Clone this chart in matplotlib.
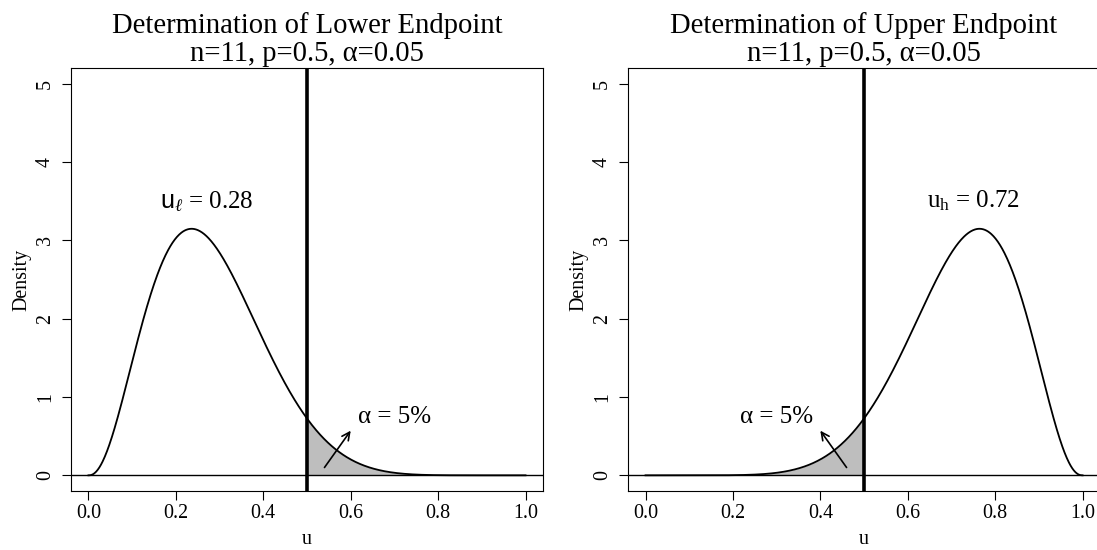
import math

import numpy as np
import matplotlib
matplotlib.use("Agg")
import matplotlib.pyplot as plt

plt.rcParams["font.family"] = ["Liberation Serif", "DejaVu Serif"]
plt.rcParams["mathtext.fontset"] = "custom"
plt.rcParams["mathtext.rm"] = "Liberation Serif"
plt.rcParams["mathtext.it"] = "Liberation Serif:italic"
plt.rcParams["mathtext.sf"] = "Liberation Sans"

# settings shown in the titles
n = 11
p = 0.5
alpha = 0.05

# endpoints (means of the two beta densities)
u_low = 0.28
u_high = 0.72

x_ticks = [0.0, 0.2, 0.4, 0.6, 0.8, 1.0]
y_ticks = [0, 1, 2, 3, 4, 5]

titles = ["Determination of Lower Endpoint", "Determination of Upper Endpoint"]
end_labels = [r"$\mathsf{u}_{\ell}$ = 0.28", r"u$_{\mathrm{h}}$ = 0.72"]
end_label_x = [0.27, 0.75]
end_label_y = 3.5
alpha_label_x = [0.7, 0.3]
alpha_label_y = 0.75
arrow_from = [(0.54, 0.1), (0.46, 0.1)]
arrow_to = [(0.60, 0.57), (0.40, 0.57)]


def beta_density(u, a, b):
    lb = math.lgamma(a) + math.lgamma(b) - math.lgamma(a + b)
    return np.exp((a - 1) * np.log(u) + (b - 1) * np.log1p(-u) - lb)


fig = plt.figure(figsize=(10.97, 5.5), dpi=100)
axes = [fig.add_axes([0.0647, 0.1073, 0.4303, 0.7691]),
        fig.add_axes([0.5725, 0.1073, 0.4303, 0.7691])]

u = np.linspace(1e-6, 1 - 1e-6, 801)
for i, (ax, m) in enumerate(zip(axes, [u_low, u_high])):
    a = (n + 1) * m
    b = (n + 1) * (1 - m)
    dens = beta_density(u, a, b)

    # shaded tail beyond the cut at p
    if i == 0:
        tail = u >= p
    else:
        tail = u <= p
    ax.fill_between(u[tail], 0, dens[tail], color="#bebebe", lw=0)
    ax.plot(u, dens, color="black", lw=1.3)
    ax.axhline(0, color="black", lw=1.0)
    ax.axvline(p, color="black", lw=2.6)

    ax.text(end_label_x[i], end_label_y, end_labels[i], fontsize=18,
            ha="center", va="center")
    ax.text(alpha_label_x[i], alpha_label_y, "α = 5%", fontsize=18,
            ha="center", va="center")
    ax.annotate("", xy=arrow_to[i], xytext=arrow_from[i],
                arrowprops=dict(arrowstyle="->", lw=1.2, color="black",
                                mutation_scale=14, shrinkA=0, shrinkB=0))

    ax.set_xlim(-0.04, 1.04)
    ax.set_ylim(-0.2, 5.2)
    ax.set_xticks(x_ticks)
    ax.set_xticklabels(["%.1f" % t for t in x_ticks])
    ax.set_yticks(y_ticks)
    ax.set_yticklabels([str(t) for t in y_ticks], rotation=90, va="center")
    ax.tick_params(direction="out", length=6.5, width=0.8, labelsize=14.4)
    ax.tick_params(axis="x", pad=3)
    ax.tick_params(axis="y", pad=5)
    for s in ax.spines.values():
        s.set_linewidth(0.8)
    ax.set_xlabel("u", fontsize=14.4, labelpad=5)
    ax.set_ylabel("Density", fontsize=14.4, labelpad=3)
    ax.set_title(titles[i] + "\n" + "n=%d, p=%s, α=%s" % (n, p, alpha),
                 fontsize=20.6, pad=5, linespacing=1.1)

fig.savefig("out.png", dpi=100)
